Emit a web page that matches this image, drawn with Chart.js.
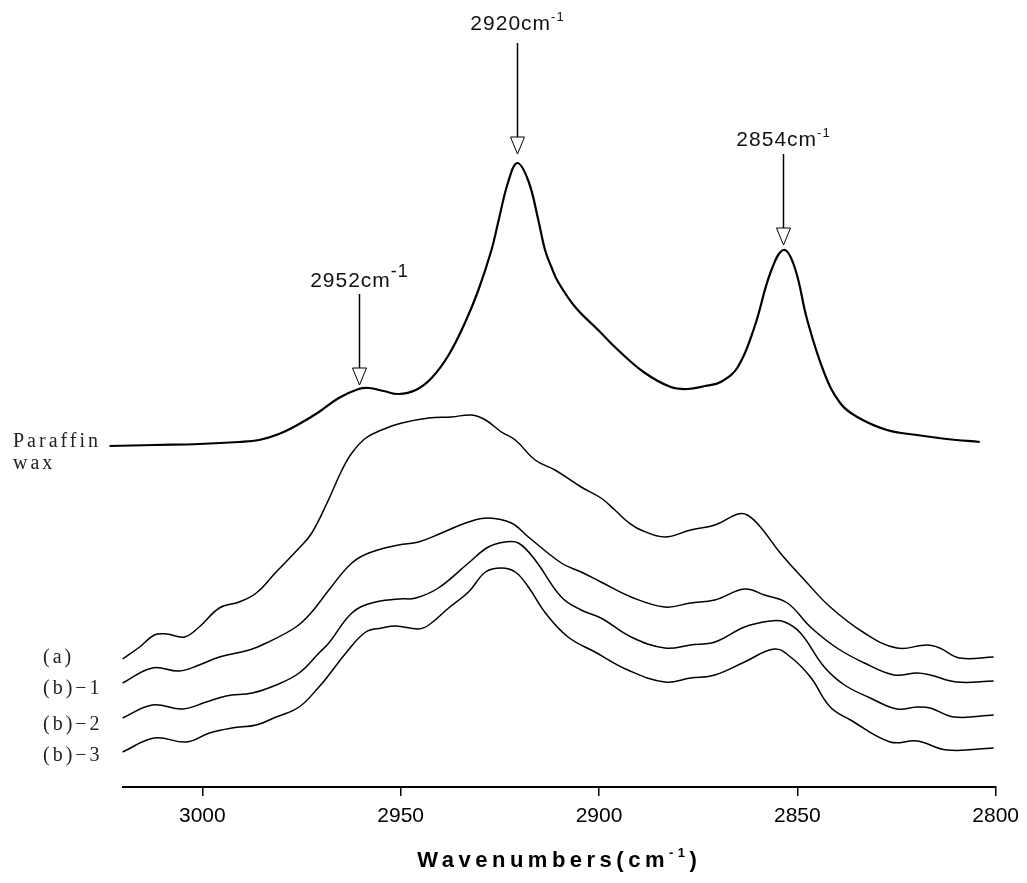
<!DOCTYPE html>
<html>
<head>
<meta charset="utf-8">
<script src="https://cdn.jsdelivr.net/npm/chart.js@4.4.1/dist/chart.umd.min.js"></script>
<style>
  html, body { margin: 0; padding: 0; background: #fff; }
  #wrap { width: 1027px; height: 883px; }
</style>
</head>
<body>
<div id="wrap"><canvas id="c" width="1027" height="883"></canvas></div>
<script>
// ── data (wavenumber cm-1, absorbance in arbitrary offset units) ──
const tickValues = [3000, 2950, 2900, 2850, 2800];
const seriesNames = ['Paraffin\nwax', '(a)', '(b)\u22121', '(b)\u22122', '(b)\u22123'];

const waxWave = [3023.4, 3012.0, 3000.8, 2990.7, 2985.7, 2980.7, 2975.6, 2970.6, 2965.6, 2960.6, 2958.0, 2954.3, 2950.5,
  2946.2, 2942.2, 2937.9, 2933.7, 2930.4, 2927.1, 2925.4, 2922.9, 2920.6, 2917.8, 2915.3, 2913.6, 2912.0, 2910.3,
  2906.0, 2900.2, 2895.2, 2888.4, 2881.9, 2877.6, 2873.3, 2869.3, 2865.0, 2860.8, 2856.8, 2853.5, 2850.7, 2847.5,
  2843.2, 2839.2, 2834.9, 2827.4, 2819.8, 2812.3, 2804.0];
const waxAbs = [3.41, 3.42, 3.43, 3.45, 3.47, 3.53, 3.63, 3.75, 3.89, 3.98, 3.99, 3.96, 3.93,
  3.97, 4.09, 4.32, 4.65, 4.97, 5.37, 5.65, 6.05, 6.24, 6.06, 5.67, 5.37, 5.20, 5.05,
  4.80, 4.57, 4.37, 4.14, 4.00, 3.98, 4.01, 4.05, 4.20, 4.60, 5.14, 5.37, 5.20, 4.67,
  4.14, 3.84, 3.70, 3.57, 3.52, 3.48, 3.45];

const aWave = [3020.1, 3015.8, 3012.1, 3009.0, 3004.5, 3000.8, 2995.7, 2990.7, 2986.4, 2981.4, 2975.6, 2972.4,
  2968.1, 2964.8, 2962.3, 2958.8, 2954.8, 2949.7, 2942.9, 2937.2, 2932.1, 2928.6, 2924.6, 2921.1, 2916.1, 2911.1,
  2904.5, 2899.5, 2896.0, 2892.7, 2889.4, 2883.4, 2876.9, 2870.8, 2865.0, 2862.6, 2859.3, 2854.3, 2848.2, 2841.7,
  2833.1, 2824.9, 2817.3, 2814.1, 2809.0, 2800.5];
const aAbs = [1.28, 1.40, 1.52, 1.53, 1.50, 1.60, 1.79, 1.85, 1.94, 2.15, 2.39, 2.54,
  2.88, 3.17, 3.34, 3.49, 3.57, 3.64, 3.69, 3.70, 3.72, 3.67, 3.55, 3.47, 3.27, 3.17,
  3.00, 2.89, 2.77, 2.65, 2.57, 2.50, 2.57, 2.62, 2.73, 2.72, 2.60, 2.34, 2.07, 1.80,
  1.54, 1.39, 1.42, 1.39, 1.29, 1.30];

const b1Wave = [3020.1, 3012.6, 3005.8, 3000.8, 2995.7, 2988.2, 2983.9, 2976.4, 2972.4, 2968.1, 2962.3, 2957.3,
  2950.5, 2945.5, 2939.7, 2932.9, 2927.9, 2922.1, 2917.8, 2909.5, 2904.5, 2899.5, 2891.9, 2883.4, 2876.9, 2870.8,
  2863.3, 2858.3, 2852.5, 2846.7, 2840.0, 2833.1, 2825.6, 2819.8, 2816.5, 2809.8, 2800.5];
const b1Abs = [1.04, 1.19, 1.16, 1.22, 1.30, 1.37, 1.44, 1.60, 1.75, 1.97, 2.24, 2.35,
  2.42, 2.45, 2.54, 2.65, 2.69, 2.64, 2.50, 2.24, 2.15, 2.05, 1.90, 1.80, 1.84, 1.87,
  1.98, 1.92, 1.84, 1.60, 1.39, 1.24, 1.12, 1.14, 1.12, 1.05, 1.06];

const b2Wave = [3020.1, 3012.6, 3005.0, 2999.0, 2994.0, 2987.4, 2981.4, 2975.6, 2970.6, 2968.1, 2962.3, 2957.3,
  2950.5, 2946.2, 2940.5, 2932.9, 2927.9, 2923.6, 2920.3, 2916.1, 2909.5, 2904.5, 2899.5, 2891.9, 2883.4, 2876.9,
  2870.8, 2863.3, 2856.8, 2853.2, 2849.2, 2843.2, 2838.1, 2831.6, 2824.9, 2819.8, 2816.5, 2810.5, 2800.5];
const b2Abs = [0.69, 0.82, 0.78, 0.85, 0.91, 0.94, 1.02, 1.14, 1.34, 1.44, 1.74, 1.84,
  1.88, 1.89, 1.99, 2.24, 2.40, 2.45, 2.44, 2.27, 1.90, 1.77, 1.69, 1.50, 1.39, 1.42,
  1.45, 1.60, 1.66, 1.65, 1.54, 1.20, 1.02, 0.89, 0.78, 0.80, 0.79, 0.70, 0.72];

const b3Wave = [3020.1, 3012.1, 3004.0, 2998.2, 2992.5, 2986.4, 2981.4, 2975.6, 2970.6, 2968.1, 2963.8, 2958.8,
  2954.8, 2951.2, 2945.5, 2942.9, 2937.9, 2932.9, 2928.6, 2924.6, 2921.1, 2917.8, 2913.5, 2907.8, 2901.0, 2892.7,
  2883.4, 2876.9, 2870.8, 2863.3, 2855.8, 2851.7, 2846.7, 2841.7, 2836.6, 2826.6, 2819.8, 2812.3, 2800.5];
const b3Abs = [0.35, 0.49, 0.45, 0.54, 0.59, 0.62, 0.70, 0.80, 1.00, 1.12, 1.34, 1.55,
  1.59, 1.61, 1.58, 1.62, 1.79, 1.95, 2.15, 2.19, 2.15, 2.00, 1.74, 1.50, 1.35, 1.17,
  1.05, 1.09, 1.12, 1.25, 1.38, 1.30, 1.10, 0.80, 0.67, 0.45, 0.46, 0.37, 0.39];

// peak annotations: label text, where the arrow points
const peakLabels = ['2952', '2920', '2854'];
const peakWave = [2960.6, 2920.6, 2853.5];
const peakAbs = [3.98, 6.24, 5.37];

const pairs = (xs, ys) => xs.map((v, i) => ({ x: v, y: ys[i] }));

// ── look ──
const tipGap = [4, 9, 5];
const lineLen = [74, 94, 74];
const textGap = [7, 13, 8];
const supSize = [18, 13, 13];
const supRise = [10, 9, 9];
const labelX = [13, 43, 43, 43, 43];
const labelShift = [-4, -1, 6, 7, 4];

function drawSupText(ctx, base, sup, tail, cx, baseline, font, supFont, rise) {
  ctx.font = font;
  const w1 = ctx.measureText(base).width;
  const w3 = tail ? ctx.measureText(tail).width : 0;
  ctx.font = supFont;
  const w2 = ctx.measureText(sup).width;
  let x0 = cx - (w1 + w2 + w3) / 2;
  ctx.textAlign = 'left';
  ctx.textBaseline = 'alphabetic';
  ctx.font = font;
  ctx.fillText(base, x0, baseline);
  ctx.font = supFont;
  ctx.fillText(sup, x0 + w1, baseline - rise);
  if (tail) {
    ctx.font = font;
    ctx.fillText(tail, x0 + w1 + w2, baseline);
  }
}

const overlay = {
  id: 'overlay',
  afterDraw(chart) {
    const { ctx, chartArea } = chart;
    const xs = chart.scales.x, ys = chart.scales.y;
    ctx.save();

    // series names on the left
    ctx.fillStyle = '#222';
    ctx.font = '20px "Liberation Serif", "DejaVu Serif", serif';
    ctx.letterSpacing = '3px';
    ctx.textAlign = 'left';
    ctx.textBaseline = 'middle';
    chart.data.datasets.forEach((ds, i) => {
      const y0 = ys.getPixelForValue(ds.data[0].y) + labelShift[i];
      seriesNames[i].split('\n').forEach((t, k) => ctx.fillText(t, labelX[i], y0 + k * 22));
    });

    // arrows
    ctx.letterSpacing = '1px';
    ctx.strokeStyle = '#000';
    peakWave.forEach((w, i) => {
      const px = Math.round(xs.getPixelForValue(w)) + 0.5;
      const tip = ys.getPixelForValue(peakAbs[i]) - tipGap[i];
      const triTop = tip - 17;
      const top = triTop - lineLen[i];
      ctx.lineWidth = 1.5;
      ctx.beginPath();
      ctx.moveTo(px, top);
      ctx.lineTo(px, triTop);
      ctx.stroke();
      ctx.lineWidth = 1;
      ctx.fillStyle = '#fff';
      ctx.beginPath();
      ctx.moveTo(px - 7, triTop);
      ctx.lineTo(px + 7, triTop);
      ctx.lineTo(px, tip);
      ctx.closePath();
      ctx.fill();
      ctx.stroke();
      ctx.fillStyle = '#111';
      drawSupText(ctx, peakLabels[i] + 'cm', '-1', '', px, top - textGap[i],
        '21px "Liberation Sans", Arial, sans-serif', supSize[i] + 'px "Liberation Sans", Arial, sans-serif', supRise[i]);
    });

    // axis title
    ctx.fillStyle = '#000';
    ctx.letterSpacing = '4.5px';
    drawSupText(ctx, 'Wavenumbers(cm', '-1', ')', (chartArea.left + chartArea.right) / 2, 867,
      'bold 22px "Liberation Sans", Arial, sans-serif', 'bold 13px "Liberation Sans", Arial, sans-serif', 10);
    ctx.restore();
  }
};

const lineStyle = { borderColor: '#000', pointRadius: 0, tension: 0.4, clip: false, fill: false };

new Chart(document.getElementById('c'), {
  type: 'line',
  data: {
    datasets: [
      { ...lineStyle, label: seriesNames[0], data: pairs(waxWave, waxAbs), borderWidth: 2.2 },
      { ...lineStyle, label: seriesNames[1], data: pairs(aWave, aAbs), borderWidth: 1.5 },
      { ...lineStyle, label: seriesNames[2], data: pairs(b1Wave, b1Abs), borderWidth: 1.5 },
      { ...lineStyle, label: seriesNames[3], data: pairs(b2Wave, b2Abs), borderWidth: 1.5 },
      { ...lineStyle, label: seriesNames[4], data: pairs(b3Wave, b3Abs), borderWidth: 1.5 },
    ],
  },
  options: {
    responsive: false,
    animation: false,
    layout: { padding: { left: 123, right: 26, top: 7, bottom: 0 } },
    plugins: { legend: { display: false }, tooltip: { enabled: false } },
    scales: {
      x: {
        type: 'linear',
        reverse: true,
        min: 2800,
        max: 3020,
        afterBuildTicks: (s) => { s.ticks = tickValues.map(v => ({ value: v })); },
        afterFit: (s) => { s.height = 96; },
        grid: { drawOnChartArea: false, drawTicks: true, tickLength: 9, color: '#000', lineWidth: 1.5 },
        border: { display: true, color: '#000', width: 2 },
        ticks: {
          color: '#000',
          padding: 8,
          maxRotation: 0,
          autoSkip: false,
          callback: (v) => String(v),
          font: { family: '"Liberation Sans Narrow", "Liberation Sans", Arial, sans-serif', size: 21 },
        },
      },
      y: { display: false, min: 0, max: 7.8 },
    },
  },
  plugins: [overlay],
});
</script>
</body>
</html>
